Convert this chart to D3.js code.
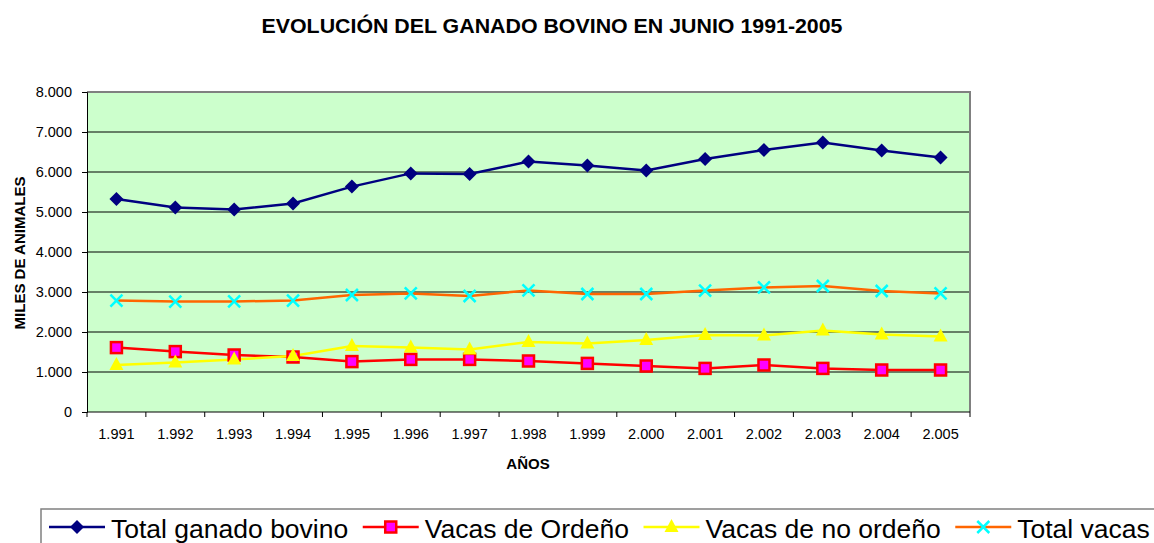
<!DOCTYPE html>
<html><head><meta charset="utf-8">
<script src="https://cdn.jsdelivr.net/npm/d3@7"></script>
<style>body{margin:0;background:#fff}svg{display:block;font-family:"Liberation Sans",Arial,sans-serif}</style>
</head><body>
<svg id="c" width="1154" height="543"></svg>
<script>
const years = ["1.991","1.992","1.993","1.994","1.995","1.996","1.997","1.998","1.999","2.000","2.001","2.002","2.003","2.004","2.005"];
const totalGanado = [5325,5110,5060,5215,5635,5965,5950,6260,6165,6035,6325,6550,6740,6535,6365];
const vacasOrdeno = [1610,1510,1425,1375,1260,1315,1315,1275,1215,1150,1090,1175,1090,1050,1050];
const vacasNoOrdeno = [1175,1235,1315,1400,1650,1615,1565,1750,1710,1800,1925,1910,2035,1940,1885];
const totalVacas = [2785,2760,2765,2785,2925,2965,2900,3040,2950,2950,3035,3115,3150,3025,2965];
const yTicks = [0,1000,2000,3000,4000,5000,6000,7000,8000];
const seriesNames = ["Total ganado bovino","Vacas de Ordeño","Vacas de no ordeño","Total vacas"];

const svg = d3.select("#c");
const L=87,R=970,T=92,B=412;
const x = d3.scaleBand().domain(years).range([L,R]);
const y = d3.scaleLinear().domain([0,8000]).range([B,T]);
const cx = d => x(d)+x.bandwidth()/2;
const fmt = v => v===0 ? "0" : d3.format(",")(v).replace(/,/g,".");
const FF = "Liberation Sans, Arial, sans-serif";

svg.append("text").attr("x",552).attr("y",33).attr("text-anchor","middle")
  .attr("font-weight","bold").attr("font-size",20).attr("textLength",581).attr("lengthAdjust","spacingAndGlyphs")
  .text("EVOLUCIÓN DEL GANADO BOVINO EN JUNIO 1991-2005");

svg.append("rect").attr("x",L).attr("y",T).attr("width",R-L).attr("height",B-T).attr("fill","#CCFFCC");
svg.append("g").selectAll("line").data(yTicks.filter(v=>v>0&&v<8000)).join("line")
  .attr("x1",L).attr("x2",R).attr("y1",d=>y(d)).attr("y2",d=>y(d)).attr("stroke","#000").attr("stroke-width",1);
svg.append("path").attr("d",`M${L},${T}H${R}V${B}`).attr("fill","none").attr("stroke","#808080").attr("stroke-width",2);

const yAxis = d3.axisLeft(y).tickValues(yTicks).tickFormat(fmt).tickSize(5).tickPadding(10);
const gy = svg.append("g").attr("transform",`translate(${L},0)`).call(yAxis);
gy.select(".domain").attr("stroke","#000");
gy.selectAll("text").attr("font-size",14.5).attr("font-family",FF).attr("fill","#000");

const xAxis = d3.axisBottom(x).tickSize(0).tickPadding(17);
const gx = svg.append("g").attr("transform",`translate(0,${B})`).call(xAxis);
gx.select(".domain").remove();
gx.selectAll("text").attr("font-size",14.5).attr("font-family",FF).attr("fill","#000");
svg.append("line").attr("x1",L).attr("x2",R).attr("y1",B).attr("y2",B).attr("stroke","#000");
const bounds = years.map(d=>x(d)).concat([R]);
svg.append("g").selectAll("line").data(bounds).join("line")
  .attr("x1",d=>d).attr("x2",d=>d).attr("y1",B).attr("y2",B+5).attr("stroke","#000");

svg.append("text").attr("x",528).attr("y",469).attr("text-anchor","middle").attr("font-weight","bold").attr("font-size",15).text("AÑOS");
svg.append("text").attr("transform","translate(25,253) rotate(-90)").attr("text-anchor","middle").attr("font-weight","bold").attr("font-size",15).text("MILES DE ANIMALES");

const series = [
  {name:seriesNames[0],vals:totalGanado,color:"#000080",marker:"diamond"},
  {name:seriesNames[1],vals:vacasOrdeno,color:"#FF0000",marker:"square"},
  {name:seriesNames[2],vals:vacasNoOrdeno,color:"#FFFF00",marker:"triangle"},
  {name:seriesNames[3],vals:totalVacas,color:"#FF6600",marker:"x"}
];
const line = d3.line().x((d,i)=>cx(years[i])).y(d=>y(d));

function drawMarker(g,type,px,py){
  if(type==="diamond"){
    g.append("path").attr("d",`M${px},${py-7}L${px+7},${py}L${px},${py+7}L${px-7},${py}Z`).attr("fill","#000080");
  } else if(type==="square"){
    g.append("rect").attr("x",px-5.5).attr("y",py-5.5).attr("width",11).attr("height",11).attr("fill","#FF00FF").attr("stroke","#FF0000").attr("stroke-width",2.5);
  } else if(type==="triangle"){
    g.append("path").attr("d",`M${px},${py-8}L${px+7},${py+5}L${px-7},${py+5}Z`).attr("fill","#FFFF00");
  } else {
    g.append("path").attr("d",`M${px-6},${py-6}L${px+6},${py+6}M${px+6},${py-6}L${px-6},${py+6}`).attr("stroke","#00FFFF").attr("stroke-width",2.5);
  }
}
series.forEach(s=>{
  svg.append("path").datum(s.vals).attr("d",line).attr("fill","none").attr("stroke",s.color).attr("stroke-width",2.5);
});
series.forEach(s=>{
  const g=svg.append("g");
  s.vals.forEach((v,i)=>drawMarker(g,s.marker,cx(years[i]),y(v)));
});

svg.append("rect").attr("x",41).attr("y",509).attr("width",1200).attr("height",60).attr("fill","#fff").attr("stroke","#808080").attr("stroke-width",1.5);
let lx=49;
series.forEach(s=>{
  const g=svg.append("g");
  g.append("line").attr("x1",lx).attr("x2",lx+56).attr("y1",527).attr("y2",527).attr("stroke",s.color).attr("stroke-width",2.5);
  drawMarker(g,s.marker,lx+28,527);
  const t=g.append("text").attr("x",lx+62).attr("y",538).attr("font-size",26.5).text(s.name);
  lx += 62 + t.node().getComputedTextLength() + 14.5;
});
</script>
</body></html>
